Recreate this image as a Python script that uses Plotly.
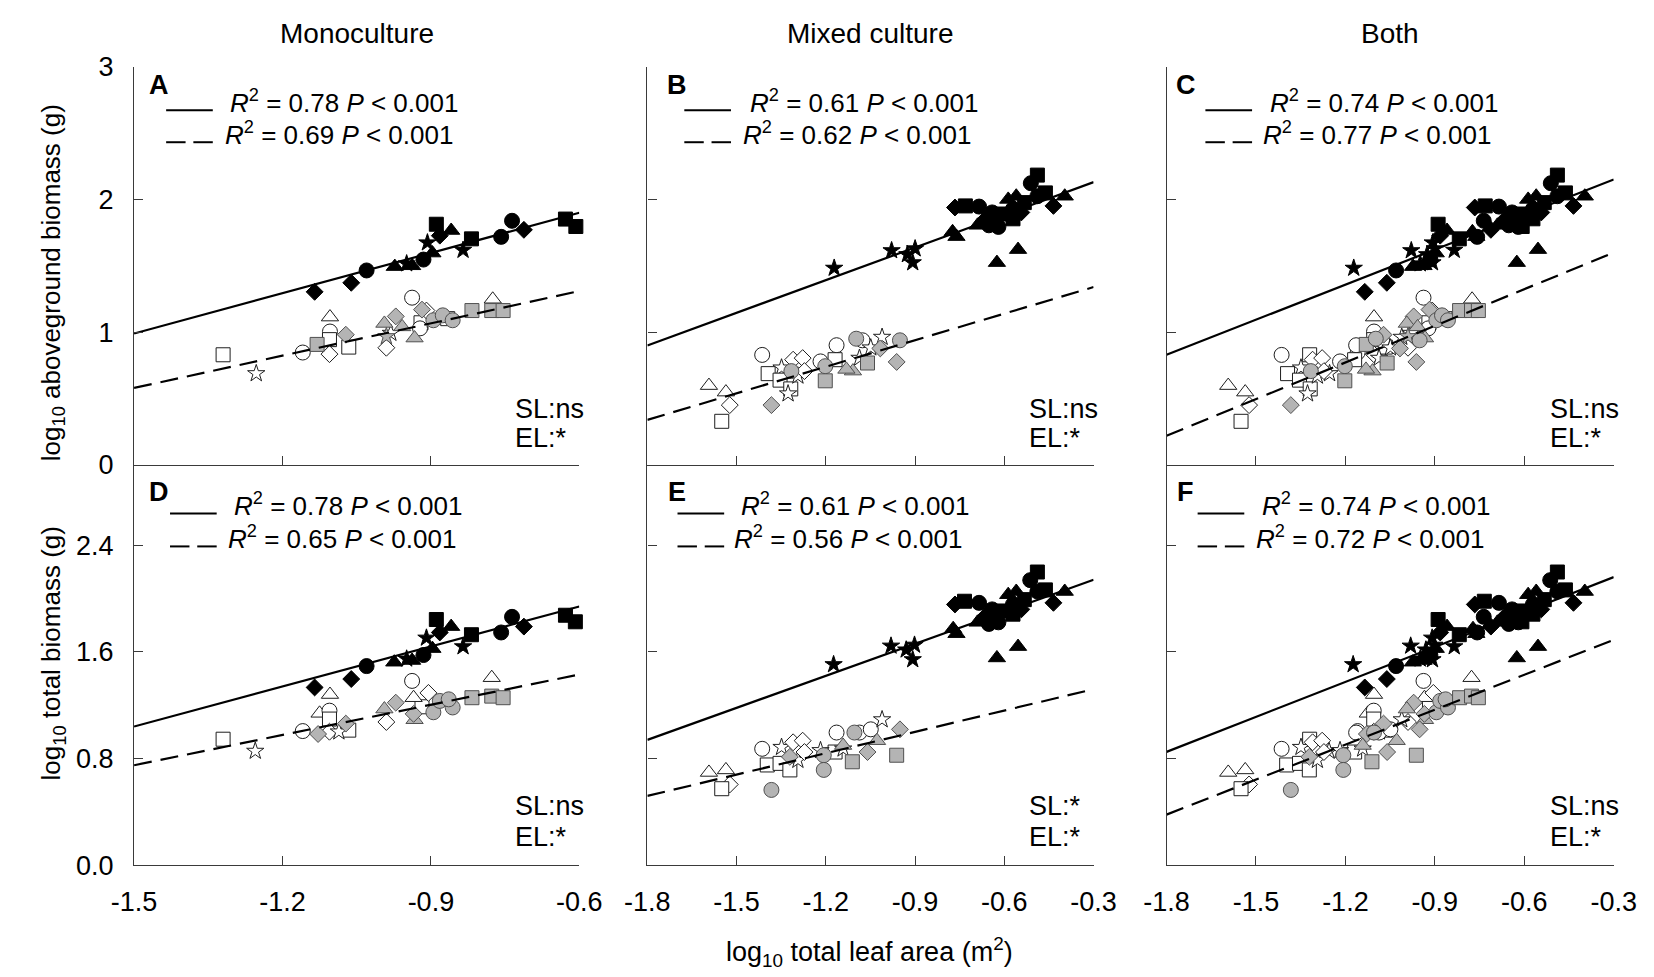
import plotly.graph_objects as go
from plotly.subplots import make_subplots

# ── data ────────────────────────────────────────────────────────────────────
# symbol codes: o circle, s square, ^ triangle, d diamond, * star
# fill codes:   k black, w open, g grey

# Monoculture, log10 aboveground biomass (panel A)
mono_ag_x = [-1.135, -1.061, -1.030, -0.973, -0.949, -0.938, -0.915, -0.897, -0.907, -0.889,
             -0.882, -0.859, -0.818, -0.835, -0.758, -0.736, -0.712, -0.628, -0.607,
             -1.320, -1.253, -1.159, -1.104, -1.104, -1.105, -1.105, -1.066, -0.990, -0.981,
             -0.938, -0.920, -0.922, -0.909, -0.775, -0.866,
             -1.130, -1.072, -0.971, -0.994, -0.990, -0.933, -0.918, -0.895, -0.876, -0.856,
             -0.817, -0.777, -0.754, -0.958]
mono_ag_y = [1.304, 1.372, 1.465, 1.494, 1.516, 1.500, 1.547, 1.596, 1.674, 1.813,
             1.727, 1.766, 1.703, 1.618, 1.718, 1.839, 1.771, 1.852, 1.796,
             0.830, 0.689, 0.847, 1.114, 1.005, 0.944, 0.835, 0.888, 0.883, 0.993,
             1.260, 1.071, 1.029, 1.163, 1.248, 1.102,
             0.908, 0.981, 1.119, 1.066, 0.968, 0.956, 1.170, 1.090, 1.127, 1.090,
             1.163, 1.163, 1.163, 1.040]
mono_ag_sym = list("ddo^*^o^*sd^s*oodss" "s*o^osdsd*osod^s" "sdd^*^dooosss^")
mono_ag_fill = list("k" * 19 + "w" * 16 + "g" * 14)

# Mixed culture, log10 aboveground biomass (panel B)
mix_ag_x = [-1.172, -0.979, -0.926, -0.908, -0.900, -0.774, -0.761, -0.766, -0.731, -0.685,
            -0.625, -0.554, -0.652, -0.663, -0.609, -0.620, -0.587, -0.571, -0.571, -0.543,
            -0.560, -0.511, -0.489, -0.533, -0.489, -0.462, -0.435, -0.397, -0.641, -0.690,
            -1.593, -1.536, -1.523, -1.550, -1.414, -1.394, -1.349, -1.310, -1.278, -1.354,
            -1.318, -1.327, -1.294, -1.272, -1.164, -1.169, -1.077, -1.049, -1.011, -1.087, -1.218,
            -1.383, -1.316, -1.202, -1.202, -1.109, -1.131, -1.017, -1.060, -0.962, -0.951,
            -1.098, -1.033]
mix_ag_y = [1.483, 1.615, 1.585, 1.524, 1.629, 1.756, 1.720, 1.939, 1.951, 1.946,
            1.524, 1.622, 1.805, 1.854, 1.890, 1.793, 2.000, 1.854, 1.927, 1.902,
            2.024, 2.122, 2.183, 1.976, 2.024, 2.049, 1.951, 2.024, 1.902, 1.805,
            0.598, 0.549, 0.451, 0.329, 0.829, 0.688, 0.732, 0.793, 0.805, 0.639,
            0.573, 0.537, 0.671, 0.707, 0.902, 0.793, 0.939, 0.883, 0.963, 0.805, 0.780,
            0.451, 0.707, 0.744, 0.634, 0.707, 0.720, 0.878, 0.768, 0.776, 0.939,
            0.951, 0.927]
mix_ag_sym = list("*****^^dso^^odso^sod^ossosd^o^" "^^dsos*ddss**doso***" "odoos^^dsdoo")
mix_ag_fill = list("k" * 30 + "w" * 21 + "g" * 12)

# Monoculture, log10 total biomass (panel D)
mono_tot_x = [-1.135, -1.061, -1.030, -0.974, -0.949, -0.938, -0.915, -0.897, -0.909, -0.889,
              -0.882, -0.859, -0.818, -0.835, -0.758, -0.736, -0.712, -0.628, -0.608,
              -1.320, -1.255, -1.159, -1.104, -1.125, -1.105, -1.105, -1.105, -1.066, -0.990,
              -0.938, -0.918, -0.935, -0.905, -0.777, -1.086,
              -1.128, -1.072, -0.971, -0.994, -0.933, -0.935, -0.895, -0.882, -0.856, -0.864,
              -0.817, -0.777, -0.754]
mono_tot_y = [1.333, 1.396, 1.493, 1.522, 1.547, 1.535, 1.576, 1.624, 1.704, 1.842,
              1.745, 1.789, 1.728, 1.639, 1.745, 1.862, 1.789, 1.874, 1.825,
              0.945, 0.856, 1.006, 1.280, 1.139, 1.159, 1.096, 1.001, 1.013, 1.074,
              1.382, 1.188, 1.256, 1.292, 1.406, 1.001,
              0.984, 1.062, 1.219, 1.171, 1.091, 1.135, 1.147, 1.232, 1.183, 1.244,
              1.256, 1.268, 1.256]
mono_tot_sym = list("ddo^*^o^*sd^s*oodss" "s*o^^osdsdos^d^*" "ddd^^doooossss")
mono_tot_fill = list("k" * 19 + "w" * 16 + "g" * 13)

# Mixed culture, log10 total biomass (panel E)
mix_tot_x = [-1.174, -0.981, -0.930, -0.908, -0.902, -0.772, -0.761, -0.766, -0.734, -0.685,
             -0.625, -0.554, -0.652, -0.663, -0.609, -0.620, -0.587, -0.571, -0.571, -0.543,
             -0.560, -0.513, -0.489, -0.533, -0.489, -0.462, -0.435, -0.397, -0.641, -0.690,
             -1.593, -1.536, -1.523, -1.550, -1.414, -1.397, -1.349, -1.310, -1.278, -1.354,
             -1.321, -1.294, -1.272, -1.164, -1.169, -1.087, -1.049, -1.011, -1.142, -1.218,
             -1.383, -1.321, -1.207, -1.207, -1.111, -1.142, -1.028, -1.060, -0.962, -0.951,
             -1.104]
mix_tot_y = [1.505, 1.644, 1.615, 1.542, 1.651, 1.773, 1.736, 1.955, 1.979, 1.967,
             1.554, 1.639, 1.809, 1.870, 1.906, 1.821, 2.028, 1.882, 1.955, 1.918,
             2.052, 2.137, 2.198, 1.991, 2.052, 2.064, 1.967, 2.052, 1.918, 1.821,
             0.696, 0.715, 0.606, 0.574, 0.873, 0.752, 0.885, 0.922, 0.934, 0.764,
             0.715, 0.788, 0.849, 0.995, 0.849, 0.995, 1.019, 1.092, 0.873, 0.861,
             0.565, 0.813, 0.825, 0.715, 0.776, 0.898, 0.934, 0.849, 0.825, 1.019,
             0.995]
mix_tot_sym = list("*****^^dso^^odso^sod^ossosd^o^" "^^dsos*ddss*dosoo***" "odoos^^dsdo")
mix_tot_fill = list("k" * 30 + "w" * 20 + "g" * 11)

# regression line ends (x at axis ends, y)
fit_x_mono = [-1.5, -0.6]
fit_x_mix = [-1.8, -0.3]
fit_solid = [[0.99, 1.90], [0.90, 2.13], [0.83, 2.15], [1.04, 1.94], [0.94, 2.14], [0.85, 2.16]]
fit_dash = [[0.58, 1.31], [0.34, 1.34], [0.22, 1.60], [0.75, 1.43], [0.52, 1.32], [0.38, 1.69]]

r2_solid = ["0.78", "0.61", "0.74", "0.78", "0.61", "0.74"]
r2_dash = ["0.69", "0.62", "0.77", "0.65", "0.56", "0.72"]
sl_sig = ["ns", "ns", "ns", "ns", "*", "ns"]
el_sig = ["*", "*", "*", "*", "*", "*"]
panel_letters = ["A", "B", "C", "D", "E", "F"]
col_titles = ["Monoculture", "Mixed culture", "Both"]

x_ticks_mono = [-1.5, -1.2, -0.9, -0.6]
x_ticks_mix = [-1.8, -1.5, -1.2, -0.9, -0.6, -0.3]
y_ticks_top = [0, 1, 2, 3]
y_ticks_bot = [0, 0.8, 1.6, 2.4]
y_text_bot = ["0.0", "0.8", "1.6", "2.4"]

# ── layout geometry (pixels) ────────────────────────────────────────────────
W, H = 1654, 977
LEFT = [106, 634, 1168]
RIGHT = [564, 1093, 1628]
TOP = [45, 456]
BOTTOM = [456, 869]
FONT = "Liberation Sans, Arial, sans-serif"
AXC = "#3a3a3a"


def fx(px):
    return px / W


def fy(py):
    return 1 - py / H


def note(px, py, text, size=27, xa="center", ya="middle", **kw):
    return dict(x=fx(px), y=fy(py), xref="paper", yref="paper", text=text, showarrow=False,
                xanchor=xa, yanchor=ya, font=dict(family=FONT, size=size, color="black"), **kw)


SYMBOL = {"o": "circle", "s": "square", "^": "triangle-up", "d": "diamond", "*": "star"}
SIZE = {"o": 15, "s": 14, "^": 15, "d": 13, "*": 13}
FILL = {"k": ("#000000", "#000000"), "w": ("#ffffff", "#1e1e1e"), "g": ("#b4b4b4", "#505050")}

datasets = {
    0: [(mono_ag_x, mono_ag_y, mono_ag_sym, mono_ag_fill)],
    1: [(mix_ag_x, mix_ag_y, mix_ag_sym, mix_ag_fill)],
    2: [(mono_ag_x, mono_ag_y, mono_ag_sym, mono_ag_fill), (mix_ag_x, mix_ag_y, mix_ag_sym, mix_ag_fill)],
    3: [(mono_tot_x, mono_tot_y, mono_tot_sym, mono_tot_fill)],
    4: [(mix_tot_x, mix_tot_y, mix_tot_sym, mix_tot_fill)],
    5: [(mono_tot_x, mono_tot_y, mono_tot_sym, mono_tot_fill), (mix_tot_x, mix_tot_y, mix_tot_sym, mix_tot_fill)],
}

fig = make_subplots(rows=2, cols=3)

for p in range(6):
    row, col = p // 3 + 1, p % 3 + 1
    # markers, grouped by fill so black sits on top
    for code in ["w", "g", "k"]:
        xs, ys, ss = [], [], []
        for dx, dy, dsym, dfill in datasets[p]:
            for xv, yv, sv, fv in zip(dx, dy, dsym, dfill):
                if fv == code:
                    xs.append(xv)
                    ys.append(yv)
                    ss.append(sv)
        fc, lc = FILL[code]
        fig.add_trace(go.Scatter(
            x=xs, y=ys, mode="markers", showlegend=False, cliponaxis=False,
            marker=dict(symbol=[SYMBOL[s] for s in ss], size=[SIZE[s] for s in ss],
                        color=fc, opacity=1, line=dict(color=lc, width=1)),
        ), row=row, col=col)

    fx_line = fit_x_mono if col == 1 else fit_x_mix
    fig.add_trace(go.Scatter(x=fx_line, y=fit_solid[p], mode="lines", showlegend=False,
                             line=dict(color="black", width=2.2)), row=row, col=col)
    fig.add_trace(go.Scatter(x=fx_line, y=fit_dash[p], mode="lines", showlegend=False,
                             line=dict(color="black", width=2.2, dash="18px,9px")), row=row, col=col)

axis_common = dict(showline=True, linecolor=AXC, linewidth=1.4, ticks="inside", ticklen=9,
                   tickcolor=AXC, tickwidth=1.2, showgrid=False, zeroline=False,
                   tickfont=dict(family=FONT, size=27, color="black"))

for p in range(6):
    r, c = p // 3, p % 3
    row, col = r + 1, c + 1
    ticks = x_ticks_mono if c == 0 else x_ticks_mix
    fig.update_xaxes(
        domain=[fx(LEFT[c]), fx(RIGHT[c])],
        range=[ticks[0], ticks[-1]],
        tickvals=ticks, ticktext=[f"{t:.1f}" for t in ticks],
        showticklabels=(r == 1), ticklabelstandoff=12,
        row=row, col=col, **axis_common)
    fig.update_yaxes(
        domain=[fy(BOTTOM[r]), fy(TOP[r])],
        range=[0, 3],
        tickvals=y_ticks_top if r == 0 else y_ticks_bot,
        ticktext=[str(t) for t in y_ticks_top] if r == 0 else y_text_bot,
        showticklabels=(c == 0), ticklabelstandoff=14,
        row=row, col=col, **axis_common)

annotations = []
shapes = []
letter_dx = [26, 30, 20, 26, 30, 20]
sample_dx = [33, 38, 40, 37, 31, 32]
text_dx = [(97, 92), (103, 96), (104, 97), (101, 95), (94, 87), (96, 90)]
for p in range(6):
    r, c = p // 3, p % 3
    L, R = LEFT[c], RIGHT[c]
    y_letter = [64, 484][r]
    y_l1 = [90, 506][r]
    y_l2 = [123, 540][r]
    annotations.append(note(L + letter_dx[p], y_letter, f"<b>{panel_letters[p]}</b>"))
    s0 = L + sample_dx[p]
    line_style = dict(color="black", width=2)
    shapes.append(dict(type="line", xref="paper", yref="paper", x0=fx(s0), x1=fx(s0 + 48),
                       y0=fy(y_l1), y1=fy(y_l1), line=line_style))
    shapes.append(dict(type="line", xref="paper", yref="paper", x0=fx(s0), x1=fx(s0 + 20),
                       y0=fy(y_l2), y1=fy(y_l2), line=line_style))
    shapes.append(dict(type="line", xref="paper", yref="paper", x0=fx(s0 + 28), x1=fx(s0 + 48),
                       y0=fy(y_l2), y1=fy(y_l2), line=line_style))
    for val, yl, tdx in [(r2_solid[p], y_l1, text_dx[p][0]), (r2_dash[p], y_l2, text_dx[p][1])]:
        annotations.append(note(L + tdx, yl + 10,
                                f"<i>R</i><sup>2</sup> = {val} <i>P</i> &lt; 0.001",
                                size=26, xa="left", ya="bottom"))
    bot = BOTTOM[r]
    annotations.append(note(R - 68, bot - [58, 61][r], f"SL:{sl_sig[p]}", xa="left"))
    annotations.append(note(R - 68, bot - [28, 29][r], f"EL:{el_sig[p]}", xa="left"))

for c in range(3):
    annotations.append(note((LEFT[c] + RIGHT[c]) / 2, 11, col_titles[c], size=28))

annotations.append(note(863, 958, "log<sub>10</sub> total leaf area (m<sup>2</sup>)"))
annotations.append(note(22, 268, "log<sub>10</sub> aboveground biomass (g)", size=26, textangle=-90))
annotations.append(note(22, 650, "log<sub>10</sub> total biomass (g)", size=26, textangle=-90))

fig.update_layout(
    width=W, height=H,
    margin=dict(l=0, r=0, t=0, b=0),
    paper_bgcolor="white", plot_bgcolor="white",
    font=dict(family=FONT, color="black"),
    annotations=annotations, shapes=shapes,
)

fig.write_html("out.html")
